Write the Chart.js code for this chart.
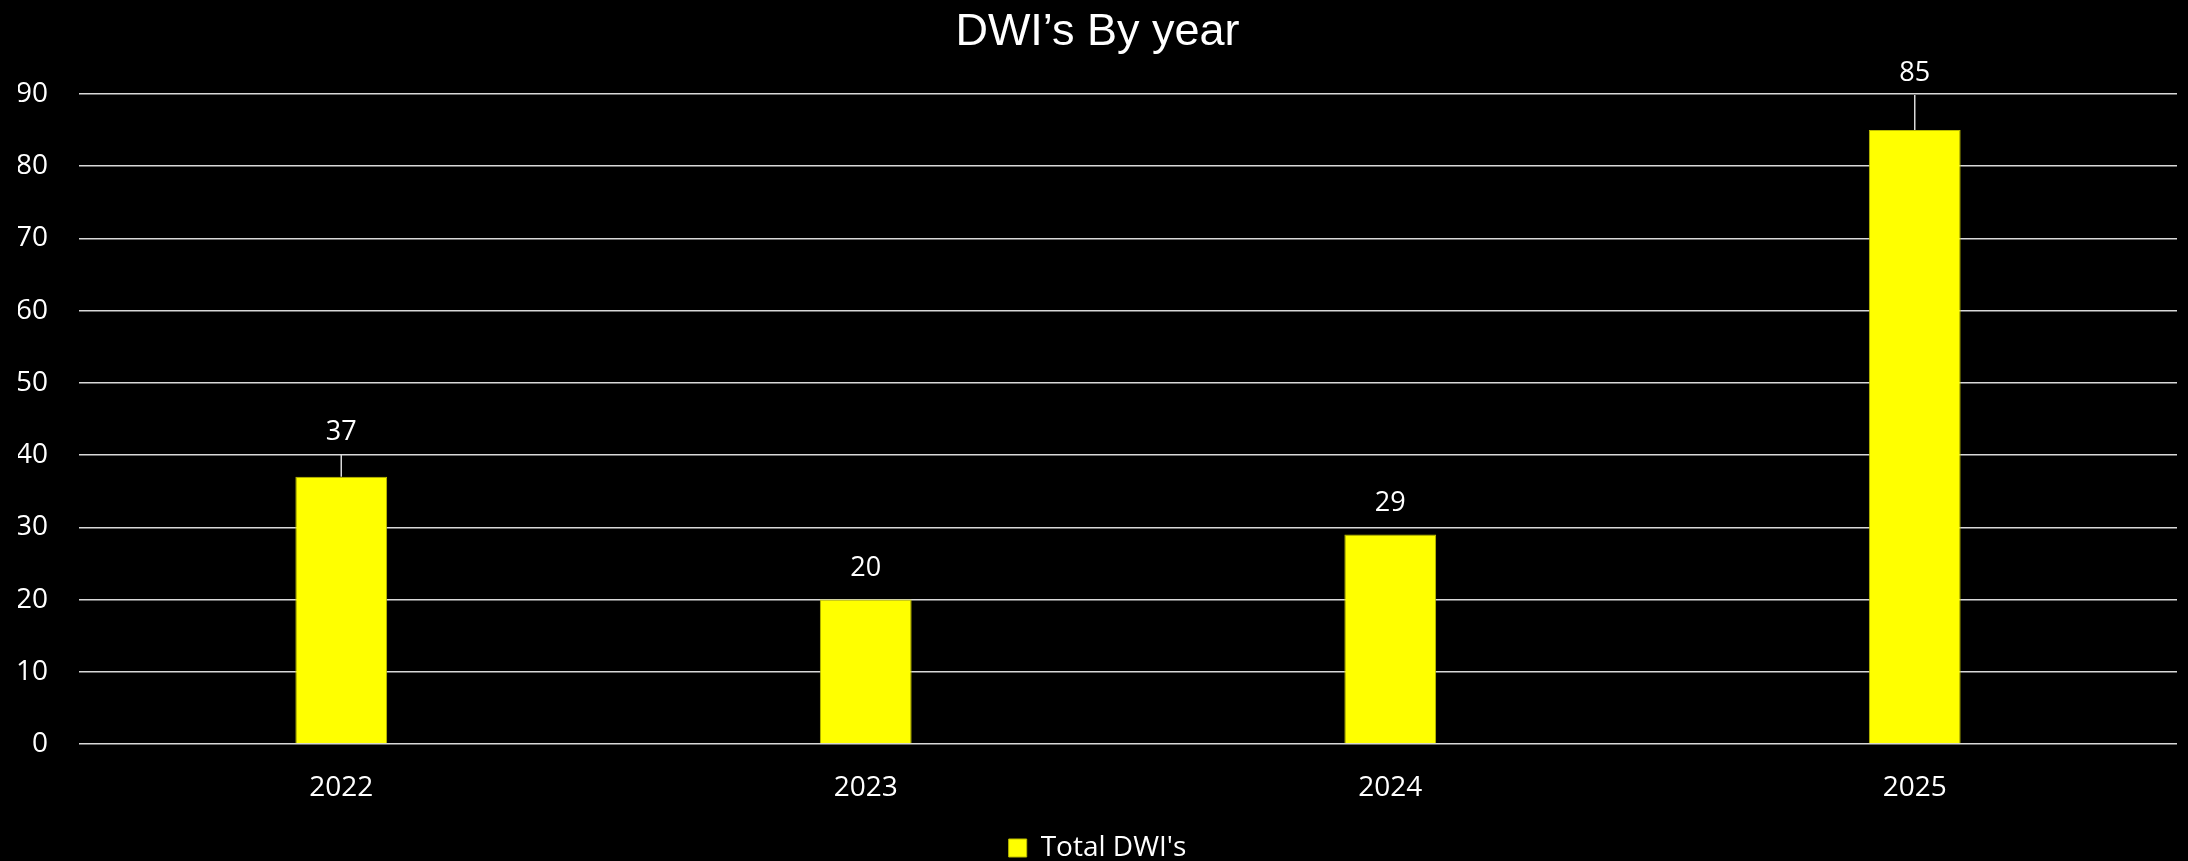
<!DOCTYPE html>
<html>
<head>
<meta charset="utf-8">
<script src="https://cdn.jsdelivr.net/npm/chart.js@4.4.1/dist/chart.umd.min.js"></script>
<style>
  html, body { margin: 0; padding: 0; background: #000; }
  #wrap { width: 2188px; height: 861px; }
</style>
</head>
<body>
<div id="wrap"><canvas id="dwiChart"></canvas></div>
<script>
/* ---------------------------------------------------
    DWI's by year
---------------------------------------------------*/
const years = ["2022", "2023", "2024", "2025"];
const totalDWIs = [37, 20, 29, 85];
const yTicks = [0, 10, 20, 30, 40, 50, 60, 70, 80, 90];

const TITLE_FONT = "'Liberation Sans', Arial, sans-serif";
const FONT = "'Open Sans', 'Liberation Sans', sans-serif";

// labels were dragged up in the original, some carry a leader line
const labelLift = [44, 31, 31, 57];

const barLabels = {
    id: 'barLabels',
    afterDatasetsDraw(chart) {
        const ctx = chart.ctx;
        const meta = chart.getDatasetMeta(0);
        ctx.save();
        ctx.font = "27px " + FONT;
        ctx.fillStyle = "#ffffff";
        ctx.textAlign = "center";
        ctx.textBaseline = "middle";
        meta.data.forEach((bar, i) => {
            const ly = bar.y - labelLift[i];
            if (labelLift[i] > 35) {
                ctx.strokeStyle = "#d9d9d9";
                ctx.lineWidth = 1.5;
                ctx.beginPath();
                ctx.moveTo(bar.x, bar.y);
                ctx.lineTo(bar.x, ly + 22);
                ctx.stroke();
            }
            ctx.fillText(totalDWIs[i], bar.x, ly);
        });
        ctx.restore();
    }
};

const blackBg = {
    id: 'blackBg',
    beforeDraw(chart) {
        const ctx = chart.ctx;
        ctx.save();
        ctx.fillStyle = "#000";
        ctx.fillRect(0, 0, chart.width, chart.height);
        ctx.restore();
    }
};

new Chart(document.getElementById('dwiChart').getContext('2d'), {
    type: 'bar',
    data: {
        labels: years,
        datasets: [{
            label: "Total DWI's",
            data: totalDWIs,
            backgroundColor: "#ffff00",
            borderColor: "#bdbd00",
            borderWidth: 1,
            barPercentage: 0.175,
            categoryPercentage: 1.0
        }]
    },
    options: {
        responsive: true,
        maintainAspectRatio: false,
        animation: false,
        devicePixelRatio: 1,
        layout: { padding: { left: 18, right: 11, top: 0, bottom: -11 } },
        plugins: {
            title: {
                display: true,
                text: "DWI’s By year",
                color: "#ffffff",
                font: { family: TITLE_FONT, size: 45, weight: 'normal', lineHeight: 1.2 },
                padding: { top: 6, bottom: 34 }
            },
            legend: {
                position: 'bottom',
                labels: {
                    color: "#ffffff",
                    font: { family: FONT, size: 28 },
                    boxWidth: 18,
                    boxHeight: 18,
                    padding: 0
                }
            },
            tooltip: { enabled: false }
        },
        scales: {
            x: {
                grid: { display: false },
                border: { display: false },
                ticks: { color: "#ffffff", font: { family: FONT, size: 28 }, padding: 19 },
                afterFit(scale) { scale.height = 90; }
            },
            y: {
                min: 0,
                max: 90,
                afterBuildTicks(scale) { scale.ticks = yTicks.map(v => ({ value: v })); },
                grid: { color: "#d9d9d9", lineWidth: 1.5, drawTicks: false },
                border: { display: false },
                ticks: { color: "#ffffff", font: { family: FONT, size: 28 }, padding: 31 },
                afterFit(scale) { scale.width = 61; }
            }
        }
    },
    plugins: [blackBg, barLabels]
});
</script>
</body>
</html>
